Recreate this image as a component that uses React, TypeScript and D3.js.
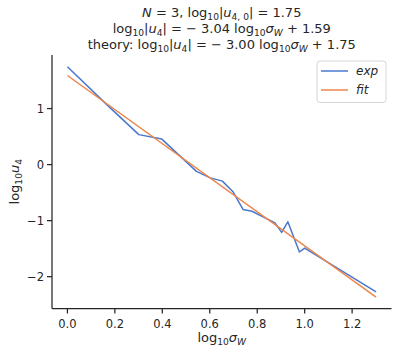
import React from "react";
import * as d3 from "d3";

const expX = [0, 0.176, 0.301, 0.398, 0.544, 0.602, 0.653, 0.699, 0.74, 0.778, 0.875, 0.903, 0.929, 0.978, 1.0, 1.301];
const expY = [1.745, 1.03, 0.535, 0.455, -0.12, -0.237, -0.295, -0.49, -0.8, -0.833, -1.04, -1.21, -1.02, -1.56, -1.49, -2.27];
const fitX = [0, 1.301];
const fitY = [1.59, -2.365];
const xTicks = [0, 0.2, 0.4, 0.6, 0.8, 1.0, 1.2];
const yTicks = [1, 0, -1, -2];
const xDomain: [number, number] = [-0.065, 1.366];
const yDomain: [number, number] = [-2.568, 1.956];

const W = 400, H = 355;
const M = { left: 52, right: 391.5, top: 55, bottom: 308.5 };
const FONT = "DejaVu Sans, sans-serif";
const INK = "#262626";
const BLUE = "#4878d0";
const ORANGE = "#ee854a";

type Part = { t: string; i?: boolean; s?: boolean };

function mathSpans(parts: Part[], size: number) {
  const out: React.ReactNode[] = [];
  let cur = 0;
  const sh = size * 0.22;
  parts.forEach((p, k) => {
    const target = p.s ? sh : 0;
    const dy = target - cur;
    cur = target;
    out.push(
      <tspan key={k} dy={dy} fontStyle={p.i ? "italic" : "normal"} fontSize={p.s ? size * 0.7 : size}>
        {p.t}
      </tspan>
    );
  });
  return out;
}

const title1: Part[] = [
  { t: "N", i: true }, { t: " = 3, log" }, { t: "10", s: true }, { t: "|" }, { t: "u", i: true },
  { t: "4, 0", s: true }, { t: "| = 1.75" },
];
const title2: Part[] = [
  { t: "log" }, { t: "10", s: true }, { t: "|" }, { t: "u", i: true }, { t: "4", s: true },
  { t: "| =  − 3.04 log" }, { t: "10", s: true }, { t: "σ", i: true }, { t: "W", s: true, i: true }, { t: " + 1.59" },
];
const title3: Part[] = [
  { t: "theory: log" }, { t: "10", s: true }, { t: "|" }, { t: "u", i: true }, { t: "4", s: true },
  { t: "| =  − 3.00 log" }, { t: "10", s: true }, { t: "σ", i: true }, { t: "W", s: true, i: true }, { t: " + 1.75" },
];
const xLabel: Part[] = [{ t: "log" }, { t: "10", s: true }, { t: "σ", i: true }, { t: "W", s: true, i: true }];
const yLabel: Part[] = [{ t: "log" }, { t: "10", s: true }, { t: "u", i: true }, { t: "4", s: true }];

export default function App() {
  const x = d3.scaleLinear().domain(xDomain).range([M.left, M.right]);
  const y = d3.scaleLinear().domain(yDomain).range([M.bottom, M.top]);
  const line = d3.line<[number, number]>().x((d) => x(d[0])).y((d) => y(d[1]));
  const expPts = expX.map((v, i) => [v, expY[i]] as [number, number]);
  const fitPts = fitX.map((v, i) => [v, fitY[i]] as [number, number]);
  const fmt = (v: number) => (v < 0 ? "−" + Math.abs(v) : String(v));
  const cx = (M.left + M.right) / 2;
  const cy = (M.top + M.bottom) / 2;
  const fs = 13;
  const tfs = 11.5;

  return (
    <svg width={W} height={H} style={{ position: "absolute", left: 0, top: 0, background: "#fff" }} fontFamily={FONT}>
      <rect width={W} height={H} fill="#fff" />
      <path d={line(expPts) || ""} fill="none" stroke={BLUE} strokeWidth={1.5} strokeLinejoin="round" />
      <path d={line(fitPts) || ""} fill="none" stroke={ORANGE} strokeWidth={1.5} />
      {/* spines */}
      <line x1={M.left} x2={M.left} y1={M.top} y2={M.bottom} stroke={INK} strokeWidth={1.25} />
      <line x1={M.left} x2={M.right} y1={M.bottom} y2={M.bottom} stroke={INK} strokeWidth={1.25} />
      {xTicks.map((t) => (
        <g key={"x" + t}>
          <line x1={x(t)} x2={x(t)} y1={M.bottom} y2={M.bottom + 5} stroke={INK} strokeWidth={1.25} />
          <text x={x(t)} y={M.bottom + 19} textAnchor="middle" fontSize={tfs} fill={INK}>
            {t.toFixed(1)}
          </text>
        </g>
      ))}
      {yTicks.map((t) => (
        <g key={"y" + t}>
          <line x1={M.left - 5} x2={M.left} y1={y(t)} y2={y(t)} stroke={INK} strokeWidth={1.25} />
          <text x={M.left - 8} y={y(t) + 4} textAnchor="end" fontSize={tfs} fill={INK}>
            {fmt(t)}
          </text>
        </g>
      ))}
      <text x={cx} y={342} textAnchor="middle" fontSize={fs} fill={INK}>
        {mathSpans(xLabel, fs)}
      </text>
      <text transform={`translate(19,${cy}) rotate(-90)`} textAnchor="middle" fontSize={fs} fill={INK}>
        {mathSpans(yLabel, fs)}
      </text>
      <text x={cx} y={17} textAnchor="middle" fontSize={fs} fill={INK}>{mathSpans(title1, fs)}</text>
      <text x={cx} y={33} textAnchor="middle" fontSize={fs} fill={INK}>{mathSpans(title2, fs)}</text>
      <text x={cx} y={49} textAnchor="middle" fontSize={fs} fill={INK}>{mathSpans(title3, fs)}</text>
      {/* legend */}
      <rect x={317} y={61} width={69} height={41.5} rx={3} fill="#fff" fillOpacity={0.8} stroke="#d6d6d6" strokeWidth={1} />
      <line x1={321} x2={348} y1={71} y2={71} stroke={BLUE} strokeWidth={1.5} />
      <line x1={321} x2={348} y1={90} y2={90} stroke={ORANGE} strokeWidth={1.5} />
      <text x={356} y={75} fontSize={12} fontStyle="italic" fill={INK}>exp</text>
      <text x={356} y={94} fontSize={12} fontStyle="italic" fill={INK}>fit</text>
    </svg>
  );
}
